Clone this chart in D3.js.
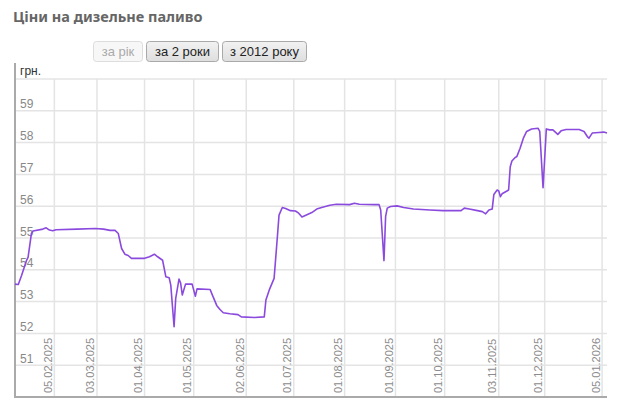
<!DOCTYPE html>
<html lang="uk">
<head>
<meta charset="UTF-8">
<title>Ціни на дизельне паливо</title>
<script src="https://cdn.jsdelivr.net/npm/d3@7"></script>
<style>
    body { margin: 0; background: #fff; }
    svg { display: block; }
</style>
</head>
<body>
<script>

    // дати та ціни (грн.)
    var dates = ["12.01.2025","14.01.2025","16.01.2025","19.01.2025","20.01.2025","22.01.2025","23.01.2025",
        "29.01.2025","31.01.2025","02.02.2025","04.02.2025","06.02.2025","19.02.2025","02.03.2025","07.03.2025",
        "11.03.2025","14.03.2025","16.03.2025","18.03.2025","20.03.2025","22.03.2025","24.03.2025","01.04.2025",
        "04.04.2025","07.04.2025","09.04.2025","12.04.2025","14.04.2025","16.04.2025","17.04.2025","19.04.2025",
        "20.04.2025","22.04.2025","23.04.2025","24.04.2025","26.04.2025","30.04.2025","02.05.2025","03.05.2025",
        "11.05.2025","12.05.2025","15.05.2025","17.05.2025","19.05.2025","23.05.2025","28.05.2025","30.05.2025",
        "07.06.2025","13.06.2025","14.06.2025","16.06.2025","19.06.2025","21.06.2025","22.06.2025","24.06.2025",
        "26.06.2025","29.06.2025","02.07.2025","04.07.2025","06.07.2025","09.07.2025","12.07.2025","15.07.2025",
        "18.07.2025","23.07.2025","27.07.2025","04.08.2025","07.08.2025","10.08.2025","19.08.2025","22.08.2025",
        "23.08.2025","25.08.2025","26.08.2025","27.08.2025","29.08.2025","02.09.2025","06.09.2025","12.09.2025",
        "22.09.2025","30.09.2025","11.10.2025","13.10.2025","16.10.2025","21.10.2025","24.10.2025","26.10.2025",
        "28.10.2025","30.10.2025","31.10.2025","02.11.2025","03.11.2025","04.11.2025","05.11.2025","08.11.2025",
        "09.11.2025","10.11.2025","11.11.2025","13.11.2025","14.11.2025","16.11.2025","18.11.2025","20.11.2025",
        "23.11.2025","27.11.2025","28.11.2025","30.11.2025","02.12.2025","04.12.2025","06.12.2025","09.12.2025",
        "11.12.2025","14.12.2025","22.12.2025","25.12.2025","27.12.2025","28.12.2025","30.12.2025","03.01.2026",
        "06.01.2026","08.01.2026"];

    var prices = [53.55,53.54,53.82,54.29,54.40,55.14,55.22,
        55.28,55.32,55.25,55.23,55.26,55.28,55.30,55.28,
        55.24,55.24,55.14,54.67,54.49,54.45,54.36,54.36,
        54.41,54.49,54.41,54.30,53.78,53.75,53.52,52.21,
        53.10,53.71,53.58,53.21,53.55,53.55,53.17,53.40,
        53.38,53.25,52.88,52.75,52.65,52.62,52.59,52.52,
        52.50,52.52,53.05,53.36,53.73,55.04,55.72,55.96,
        55.93,55.86,55.85,55.78,55.66,55.73,55.80,55.91,
        55.96,56.03,56.06,56.05,56.09,56.06,56.05,56.05,
        55.88,54.29,55.68,55.94,55.99,56.01,55.96,55.91,
        55.88,55.86,55.86,55.94,55.91,55.86,55.83,55.76,
        55.88,55.91,56.37,56.51,56.48,56.30,56.39,56.48,
        56.51,57.24,57.42,57.53,57.56,57.82,58.14,58.35,
        58.43,58.45,58.35,56.58,58.43,58.40,58.40,58.26,
        58.37,58.41,58.41,58.35,58.19,58.14,58.30,58.32,
        58.33,58.30];

    var xTickDates = ["05.02.2025","03.03.2025","01.04.2025","01.05.2025","02.06.2025","01.07.2025",
        "01.08.2025","01.09.2025","01.10.2025","03.11.2025","01.12.2025","05.01.2026"];
    var yTicks = [51,52,53,54,55,56,57,58,59];
    var buttons = ["за рік","за 2 роки","з 2012 року"];

    var width  = 620;
    var height = 414;
    var parse = d3.timeParse("%d.%m.%Y");
    var fmt = d3.timeFormat("%d.%m.%Y");

    var data = dates.map(function(d, i) { return { date: parse(d), value: prices[i] }; });

    var svg = d3.select("body").append("svg")
        .attr("width", width)
        .attr("height", height);

    // заголовок
    svg.append("text")
        .attr("x", 13).attr("y", 22)
        .attr("fill", "#666")
        .attr("font-family", "Noto Sans, sans-serif")
        .attr("font-weight", "bold")
        .attr("font-size", 14.5)
        .text("Ціни на дизельне паливо");

    // кнопки
    var defs = svg.append("defs");
    var grad = defs.append("linearGradient").attr("id", "btn").attr("x1", 0).attr("y1", 0).attr("x2", 0).attr("y2", 1);
    grad.append("stop").attr("offset", "0%").attr("stop-color", "#f2f2f2");
    grad.append("stop").attr("offset", "100%").attr("stop-color", "#dedede");

    var bx = [93, 146, 222], bw = [49, 72, 84];
    var btn = svg.selectAll("g.btn").data(buttons).enter().append("g")
        .attr("transform", function(d, i) { return "translate(" + bx[i] + ",41)"; });
    btn.append("rect")
        .attr("x", 0.5).attr("y", 0.5)
        .attr("width", function(d, i) { return bw[i]; })
        .attr("height", 20)
        .attr("rx", 3)
        .attr("fill", function(d, i) { return i === 0 ? "#f7f7f7" : "url(#btn)"; })
        .attr("stroke", function(d, i) { return i === 0 ? "#ddd" : "#a9a9a9"; });
    btn.append("text")
        .attr("x", function(d, i) { return bw[i] / 2 + 0.5; })
        .attr("y", 15)
        .attr("text-anchor", "middle")
        .attr("font-family", "Liberation Sans, Arial, sans-serif")
        .attr("font-size", 13)
        .attr("fill", function(d, i) { return i === 0 ? "#aaa" : "#222"; })
        .text(function(d) { return d; });

    // шкали
    var x = d3.scaleTime()
        .domain([parse("12.01.2025"), parse("08.01.2026")])
        .range([15, 607]);
    var y = d3.scaleLinear()
        .domain([50, 60])
        .range([397, 79]);

    // сітка
    var grid = svg.append("g").attr("stroke", "#e4e4e4").attr("stroke-width", 1.5);
    grid.selectAll("line.h").data(yTicks.concat([60])).enter().append("line")
        .attr("x1", 15).attr("x2", 607)
        .attr("y1", function(d) { return y(d); })
        .attr("y2", function(d) { return y(d); });
    grid.selectAll("line.v").data(xTickDates).enter().append("line")
        .attr("y1", y(60)).attr("y2", y(50))
        .attr("x1", function(d) { return x(parse(d)); })
        .attr("x2", function(d) { return x(parse(d)); });

    // вісь X (підписи)
    var xAxis = d3.axisBottom(x)
        .tickValues(xTickDates.map(parse))
        .tickFormat(fmt)
        .tickSize(0);
    var gx = svg.append("g").attr("transform", "translate(0," + y(50) + ")").call(xAxis);
    gx.select(".domain").remove();
    gx.selectAll("text")
        .attr("font-family", "Liberation Sans, Arial, sans-serif")
        .attr("font-size", 11)
        .attr("fill", "#8c8c8c")
        .attr("text-anchor", "start")
        .attr("dy", null)
        .attr("y", 0)
        .attr("transform", "translate(-3,-4) rotate(-90)");

    // вісь Y (підписи)
    var yAxis = d3.axisRight(y).tickValues(yTicks).tickSize(0);
    var gy = svg.append("g").attr("transform", "translate(20,0)").call(yAxis);
    gy.select(".domain").remove();
    gy.selectAll("text")
        .attr("x", 0)
        .attr("dy", -3)
        .attr("font-family", "Liberation Sans, Arial, sans-serif")
        .attr("font-size", 12)
        .attr("fill", "#888");

    svg.append("text")
        .attr("x", 20).attr("y", 75)
        .attr("font-family", "Liberation Sans, Arial, sans-serif")
        .attr("font-size", 12)
        .attr("fill", "#333")
        .text("грн.");

    // лінії осей
    svg.append("line").attr("x1", 15).attr("x2", 15).attr("y1", 63).attr("y2", y(50) + 1)
        .attr("stroke", "#aaa").attr("stroke-width", 2);
    svg.append("line").attr("x1", 14).attr("x2", 607).attr("y1", y(50)).attr("y2", y(50))
        .attr("stroke", "#aaa").attr("stroke-width", 2);

    // лінія цін
    var line = d3.line()
        .x(function(d) { return x(d.date); })
        .y(function(d) { return y(d.value); });
    svg.append("path")
        .datum(data)
        .attr("fill", "none")
        .attr("stroke", "#8b4ade")
        .attr("stroke-width", 1.6)
        .attr("stroke-linejoin", "round")
        .attr("d", line);

</script>
</body>
</html>
